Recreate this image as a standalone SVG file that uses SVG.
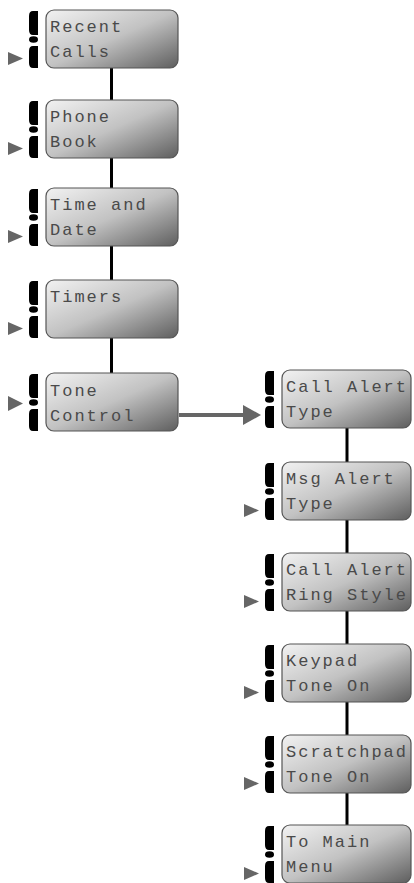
<svg xmlns="http://www.w3.org/2000/svg" xmlns:xlink="http://www.w3.org/1999/xlink" width="414" height="883" viewBox="0 0 414 883">
<defs>
<linearGradient id="lcd" x1="0" y1="0" x2="1" y2="1">
<stop offset="0" stop-color="#f2f2f2"/>
<stop offset="0.5" stop-color="#c2c2c2"/>
<stop offset="1" stop-color="#5e5e5e"/>
</linearGradient>
<g id="bars">
<path d="M-8 1 H-13 Q-17 1 -17 6 V20 Q-17 25 -13 25 H-8 Z"/>
<ellipse cx="-12.5" cy="29.5" rx="4.5" ry="3.2"/>
<path d="M-8 36 H-13 Q-17 36 -17 41 V53 Q-17 58 -13 58 H-8 Z"/>
</g>
<polygon id="triB" points="-38,42 -23,48.5 -38,55"/>
<polygon id="triM" points="-38,23 -23,30.5 -38,38"/>
</defs>
<style>
.box{fill:url(#lcd);stroke:#555;stroke-width:1.2}
.bars{fill:#000}
.tri{fill:#666}
.t{font-family:"Liberation Mono","DejaVu Sans Mono",monospace;font-size:17px;letter-spacing:2px;fill:#4a4a4a}
.conn{stroke:#000;stroke-width:3;fill:none}
</style>
<g id="connectors">
<line class="conn" x1="111.5" y1="68" x2="111.5" y2="100"/>
<line class="conn" x1="111.5" y1="158" x2="111.5" y2="188"/>
<line class="conn" x1="111.5" y1="246" x2="111.5" y2="280"/>
<line class="conn" x1="111.5" y1="338" x2="111.5" y2="373"/>
<line class="conn" x1="347" y1="428" x2="347" y2="462"/>
<line class="conn" x1="347" y1="520" x2="347" y2="553"/>
<line class="conn" x1="347" y1="611" x2="347" y2="644"/>
<line class="conn" x1="347" y1="702" x2="347" y2="735"/>
<line class="conn" x1="347" y1="793" x2="347" y2="825"/>
<line x1="179" y1="415" x2="245" y2="415" stroke="#666" stroke-width="4"/>
<polygon points="243,405 261,415 243,425" fill="#666"/>
</g>
<g id="recent-calls" transform="translate(46,10)">
<rect class="box" x="0" y="0" width="132" height="58" rx="8"/>
<use href="#bars" class="bars"/><use href="#triB" class="tri"/>
<text class="t" x="4" y="22">Recent</text><text class="t" x="4" y="47">Calls</text>
</g>
<g id="phone-book" transform="translate(46,100)">
<rect class="box" x="0" y="0" width="132" height="58" rx="8"/>
<use href="#bars" class="bars"/><use href="#triB" class="tri"/>
<text class="t" x="4" y="22">Phone</text><text class="t" x="4" y="47">Book</text>
</g>
<g id="time-and-date" transform="translate(46,188)">
<rect class="box" x="0" y="0" width="132" height="58" rx="8"/>
<use href="#bars" class="bars"/><use href="#triB" class="tri"/>
<text class="t" x="4" y="22">Time and</text><text class="t" x="4" y="47">Date</text>
</g>
<g id="timers" transform="translate(46,280)">
<rect class="box" x="0" y="0" width="132" height="58" rx="8"/>
<use href="#bars" class="bars"/><use href="#triB" class="tri"/>
<text class="t" x="4" y="22">Timers</text>
</g>
<g id="tone-control" transform="translate(46,373)">
<rect class="box" x="0" y="0" width="132" height="58" rx="8"/>
<use href="#bars" class="bars"/><use href="#triM" class="tri"/>
<text class="t" x="4" y="23">Tone</text><text class="t" x="4" y="48">Control</text>
</g>
<g id="call-alert-type" transform="translate(282,370)">
<rect class="box" x="0" y="0" width="129" height="58" rx="8"/>
<use href="#bars" class="bars"/>
<text class="t" x="4" y="22">Call Alert</text><text class="t" x="4" y="47">Type</text>
</g>
<g id="msg-alert-type" transform="translate(282,462)">
<rect class="box" x="0" y="0" width="129" height="58" rx="8"/>
<use href="#bars" class="bars"/><use href="#triB" class="tri"/>
<text class="t" x="4" y="22">Msg Alert</text><text class="t" x="4" y="47">Type</text>
</g>
<g id="call-alert-ring-style" transform="translate(282,553)">
<rect class="box" x="0" y="0" width="129" height="58" rx="8"/>
<use href="#bars" class="bars"/><use href="#triB" class="tri"/>
<text class="t" x="4" y="22">Call Alert</text><text class="t" x="4" y="47">Ring Style</text>
</g>
<g id="keypad-tone-on" transform="translate(282,644)">
<rect class="box" x="0" y="0" width="129" height="58" rx="8"/>
<use href="#bars" class="bars"/><use href="#triB" class="tri"/>
<text class="t" x="4" y="22">Keypad</text><text class="t" x="4" y="47">Tone On</text>
</g>
<g id="scratchpad-tone-on" transform="translate(282,735)">
<rect class="box" x="0" y="0" width="129" height="58" rx="8"/>
<use href="#bars" class="bars"/><use href="#triB" class="tri"/>
<text class="t" x="4" y="22">Scratchpad</text><text class="t" x="4" y="47">Tone On</text>
</g>
<g id="to-main-menu" transform="translate(282,825)">
<rect class="box" x="0" y="0" width="129" height="58" rx="8"/>
<use href="#bars" class="bars"/><use href="#triB" class="tri"/>
<text class="t" x="4" y="22">To Main</text><text class="t" x="4" y="47">Menu</text>
</g>
</svg>
